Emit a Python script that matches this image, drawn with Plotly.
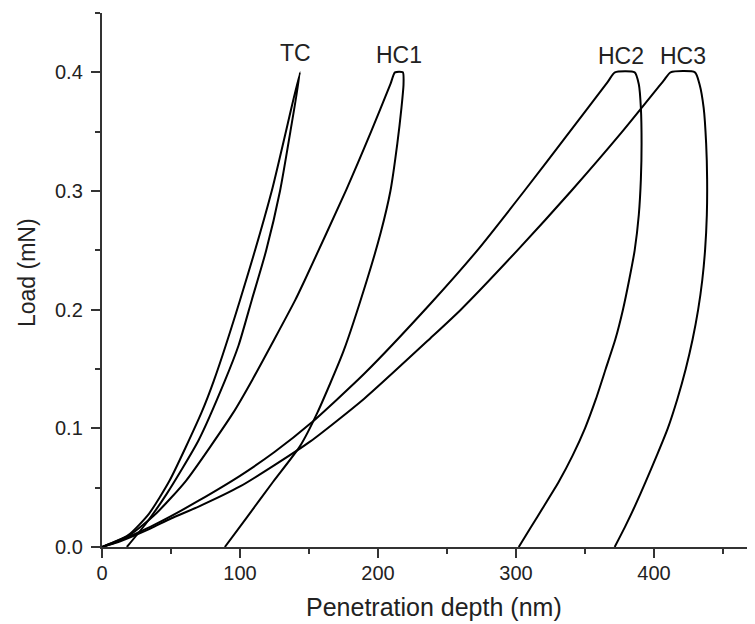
import plotly.graph_objects as go

# ---- data (depth in nm, load in mN) ----
tc_depth = [0, 19, 34, 49, 72, 81, 100, 123, 143.5,
            136.5, 129, 119, 108.5, 99, 89, 70, 47, 32, 18]
tc_load = [0, 0.01, 0.028, 0.056, 0.113, 0.14, 0.208, 0.3, 0.4,
           0.35, 0.3, 0.25, 0.208, 0.17, 0.14, 0.09, 0.045, 0.02, 0]

hc1_depth = [0, 20, 39, 61, 95, 109, 140, 147, 177, 195, 209, 212.3,
             218, 218.5, 217, 214, 209, 202, 192, 175, 156, 143.5, 124, 105, 89]
hc1_load = [0, 0.01, 0.028, 0.056, 0.113, 0.141, 0.208, 0.225, 0.301, 0.35, 0.39, 0.4,
            0.4, 0.39, 0.37, 0.34, 0.3, 0.265, 0.225, 0.165, 0.113, 0.085, 0.055, 0.025, 0]

hc2_depth = [0, 10, 20, 35, 50, 70, 100, 125, 151, 190, 238, 272, 306, 339, 366.5, 371.7,
             386, 389, 390.5, 391, 390.5, 389, 386, 382, 377.5, 372, 365, 358, 350,
             341, 331, 320, 311, 302]
hc2_load = [0, 0.004, 0.009, 0.017, 0.026, 0.039, 0.06, 0.08, 0.104, 0.146, 0.205, 0.25, 0.3, 0.35, 0.392, 0.4,
            0.4, 0.39, 0.37, 0.34, 0.31, 0.28, 0.25, 0.225, 0.2, 0.175, 0.15, 0.125, 0.1,
            0.077, 0.055, 0.034, 0.017, 0]

hc3_depth = [0, 10, 20, 35, 50, 70, 100, 125, 151, 190, 238, 260, 301, 340, 377, 407, 412,
             429.7, 433, 436, 437.8, 438.5, 438.3, 437, 435, 432, 428, 423, 417, 410,
             402, 394, 386, 379, 371.5]
hc3_load = [0, 0.0035, 0.008, 0.0155, 0.024, 0.034, 0.051, 0.069, 0.089, 0.125, 0.176, 0.2, 0.25, 0.3, 0.35, 0.393, 0.4,
            0.4, 0.39, 0.37, 0.34, 0.31, 0.28, 0.25, 0.225, 0.2, 0.175, 0.15, 0.125, 0.1,
            0.077, 0.055, 0.034, 0.017, 0]

curve_names = ["TC", "HC1", "HC2", "HC3"]
label_depth = [140, 215, 376, 421]
label_load = [0.416, 0.415, 0.414, 0.414]

x_ticks = [0, 100, 200, 300, 400]
y_ticks = [0.0, 0.1, 0.2, 0.3, 0.4]
y_tick_text = ["0.0", "0.1", "0.2", "0.3", "0.4"]
x_title = "Penetration depth (nm)"
y_title = "Load (mN)"

FONT = "Arial, 'Liberation Sans', Helvetica, sans-serif"
INK = "#222222"

fig = go.Figure()
for name, xs, ys in zip(curve_names,
                        [tc_depth, hc1_depth, hc2_depth, hc3_depth],
                        [tc_load, hc1_load, hc2_load, hc3_load]):
    fig.add_trace(go.Scatter(x=xs, y=ys, mode="lines", name=name,
                             line=dict(color="black", width=2, shape="spline", smoothing=0.6),
                             showlegend=False))

for name, lx, ly in zip(curve_names, label_depth, label_load):
    fig.add_annotation(x=lx, y=ly, text=name, showarrow=False,
                       font=dict(family=FONT, size=23, color=INK),
                       xanchor="center", yanchor="middle")

# y tick labels and axis titles placed next to the axes
for val, txt in zip(y_ticks, y_tick_text):
    fig.add_annotation(xref="paper", yref="y", x=0, y=val, text=txt, showarrow=False,
                       font=dict(family=FONT, size=20, color=INK),
                       xanchor="right", yanchor="middle", xshift=-17)
fig.add_annotation(xref="paper", yref="paper", x=0, y=0.5, text=y_title, showarrow=False,
                   textangle=-90, font=dict(family=FONT, size=23, color=INK),
                   xanchor="center", yanchor="middle", xshift=-75, yshift=7)
fig.add_annotation(xref="paper", yref="paper", x=0.5, y=0, text=x_title, showarrow=False,
                   font=dict(family=FONT, size=25, color=INK),
                   xanchor="center", yanchor="middle", xshift=5, yshift=-60)

# page body has an 8px default margin, so the figure is 8px smaller than the window
fig.update_layout(
    width=747, height=616,
    margin=dict(l=94, r=0, t=5, b=77),
    paper_bgcolor="white", plot_bgcolor="white",
    font=dict(family=FONT, color=INK),
)
fig.update_xaxes(
    range=[0, 473.2], tickvals=x_ticks,
    showline=True, linecolor="#333333", linewidth=2, mirror=False,
    ticks="outside", ticklen=9, tickwidth=2, tickcolor="#333333",
    minor=dict(ticks="outside", ticklen=5, tickwidth=2, tickcolor="#333333", dtick=50, tick0=0),
    showgrid=False, zeroline=False,
    tickfont=dict(family=FONT, size=20, color=INK),
    ticklabelstandoff=-2,
)
fig.update_yaxes(
    range=[0, 0.45], tickvals=y_ticks, showticklabels=False,
    showline=True, linecolor="#333333", linewidth=2, mirror=False,
    ticks="outside", ticklen=9, tickwidth=2, tickcolor="#333333",
    minor=dict(ticks="outside", ticklen=5, tickwidth=2, tickcolor="#333333", dtick=0.05, tick0=0),
    showgrid=False, zeroline=False,
)

fig.write_html("out.html")
